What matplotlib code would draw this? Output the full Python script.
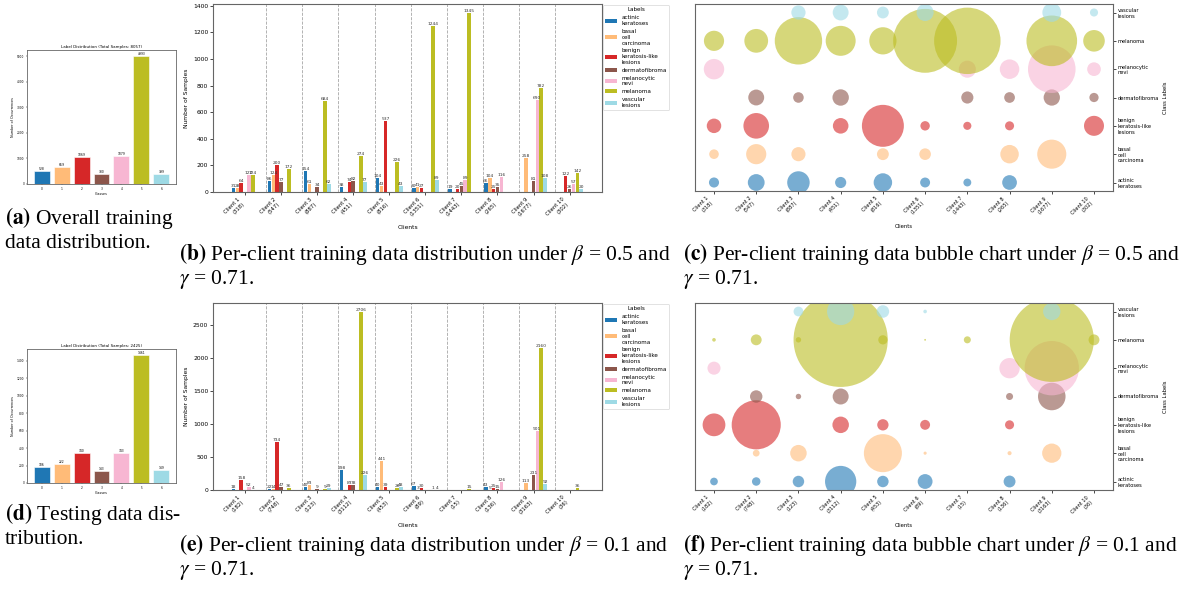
import numpy as np
import matplotlib.pyplot as plt

# class order shared by every panel
CLASS_NAMES = ["actinic keratoses", "basal cell carcinoma",
               "benign keratosis-like lesions", "dermatofibroma",
               "melanocytic nevi", "melanoma", "vascular lesions"]

# overall label counts
TRAIN_COUNTS = [528, 659, 1069, 380, 1079, 4993, 399]
TRAIN_TOTAL = 8057
TEST_COUNTS = [186, 222, 340, 143, 343, 1461, 149]
TEST_TOTAL = 2425

# per-client totals shown under the tick labels
CLIENT_TOTALS_B05 = [318, 547, 887, 451, 816, 1351, 1443, 265, 1677, 302]
CLIENT_TOTALS_B01 = [182, 748, 123, 3112, 453, 89, 15, 136, 3163, 36]

# per-client counts, beta = 0.5 (one list per class, clients 1..10)
AK_B05 = [31, 86, 154, 38, 104, 30, 19, 66, 0, 0]
BCC_B05 = [28, 124, 61, 0, 43, 41, 0, 104, 258, 0]
BKL_B05 = [64, 200, 0, 74, 537, 27, 20, 25, 0, 122]
DF_B05 = [0, 77, 34, 82, 0, 0, 45, 35, 81, 26]
NV_B05 = [127, 0, 0, 0, 0, 0, 89, 116, 690, 57]
MEL_B05 = [124, 172, 684, 274, 226, 1244, 1345, 0, 782, 142]
VASC_B05 = [0, 0, 62, 77, 43, 89, 0, 0, 108, 20]

# per-client counts, beta = 0.1
AK_B01 = [18, 22, 40, 298, 40, 67, 0, 43, 0, 0]
BCC_B01 = [0, 14, 83, 0, 441, 3, 0, 5, 113, 0]
BKL_B01 = [158, 734, 0, 83, 39, 30, 0, 25, 0, 0]
DF_B01 = [0, 47, 9, 78, 0, 0, 0, 15, 231, 0]
NV_B01 = [52, 0, 0, 0, 0, 0, 0, 126, 901, 0]
MEL_B01 = [4, 36, 9, 2706, 26, 1, 15, 0, 2160, 36]
VASC_B01 = [0, 0, 29, 226, 48, 4, 0, 0, 92, 0]

COUNTS_B05 = [AK_B05, BCC_B05, BKL_B05, DF_B05, NV_B05, MEL_B05, VASC_B05]
COUNTS_B01 = [AK_B01, BCC_B01, BKL_B01, DF_B01, NV_B01, MEL_B01, VASC_B01]

COLORS = plt.cm.tab20(np.linspace(0, 1, 7))
WRAPPED = [n.replace(" ", "\n") for n in CLASS_NAMES]

plt.rcParams["mathtext.fontset"] = "stix"
SPINE_COLOR = "0.4"

W, H = 1183, 592
fig = plt.figure(figsize=(W / 100, H / 100), dpi=100)


def axes_px(x0, y0, x1, y1):
    return fig.add_axes([x0 / W, 1 - y1 / H, (x1 - x0) / W, (y1 - y0) / H])


def style_spines(ax, lw=0.8):
    for s in ax.spines.values():
        s.set_color(SPINE_COLOR)
        s.set_linewidth(lw)


def overall_bars(ax, counts, total):
    x = np.arange(len(counts))
    ax.bar(x, counts, width=0.8, color=COLORS, edgecolor="white", linewidth=0.4)
    for xi, c in zip(x, counts):
        ax.text(xi, c, str(c), ha="center", va="bottom", fontsize=2.2)
    ax.set_title(f"Label Distribution (Total Samples: {total})", fontsize=2.9, pad=1.5)
    ax.set_xlabel("Classes", fontsize=2.4, labelpad=1)
    ax.set_ylabel("Number of Occurrences", fontsize=2.4, labelpad=1.5)
    ax.set_xticks(x)
    ax.tick_params(labelsize=2.1, length=1, width=0.3, pad=1)
    style_spines(ax, 0.6)


def client_labels(totals):
    return [f"Client {i + 1}\n({t})" for i, t in enumerate(totals)]


def client_bars(ax, counts, totals):
    n = len(totals)
    x = np.arange(n)
    w = 0.75 / 7
    for j, vals in enumerate(counts):
        pos = x + (j - 3) * w
        ax.bar(pos, vals, width=w * 0.92, color=COLORS[j], label=WRAPPED[j])
        for p, v in zip(pos, vals):
            if v > 0:
                ax.text(p, v, str(v), ha="center", va="bottom", fontsize=3.2, color="0.2")
    for i in range(n - 1):
        ax.axvline(i + 0.59, color="0.5", ls="--", lw=0.6, alpha=0.7)
    ax.set_xlim(-0.89, 9.9)
    ax.set_xticks(x)
    ax.set_xticklabels(client_labels(totals), rotation=45, ha="right", fontsize=3.8)
    ax.tick_params(axis="y", labelsize=4.3, length=2, width=0.5, pad=1.5)
    ax.tick_params(axis="x", length=2, width=0.5, pad=1.5)
    ax.set_xlabel("Clients", fontsize=4.3, labelpad=3)
    ax.set_ylabel("Number of Samples", fontsize=4.3, labelpad=3)
    leg = ax.legend(title="Labels", loc="upper left", bbox_to_anchor=(1.0, 1.0),
                    fontsize=4.1, title_fontsize=4.1, borderaxespad=0.2)
    leg.get_frame().set_linewidth(0.5)
    style_spines(ax)


def bubbles(ax, counts, totals):
    x = np.arange(len(totals))
    for j, vals in enumerate(counts):
        vals = np.array(vals)
        m = vals > 0
        ax.scatter(x[m], np.full(m.sum(), j), s=vals[m] * 1.7, color=COLORS[j],
                   alpha=0.6, edgecolors="none")
    ax.set_xlim(-0.45, 9.45)
    ax.set_ylim(-0.3, 6.3)
    ax.set_xticks(x)
    ax.set_xticklabels(client_labels(totals), rotation=45, ha="right", fontsize=3.6)
    ax.yaxis.tick_right()
    ax.yaxis.set_label_position("right")
    ax.set_yticks(range(len(CLASS_NAMES)))
    ax.set_yticklabels(WRAPPED, fontsize=3.7)
    ax.tick_params(length=2, width=0.5, pad=1.5)
    ax.set_xlabel("Clients", fontsize=3.8, labelpad=3)
    ax.set_ylabel("Class Labels", fontsize=3.8, labelpad=3)
    style_spines(ax)


overall_bars(axes_px(27, 50, 176, 184), TRAIN_COUNTS, TRAIN_TOTAL)
overall_bars(axes_px(27, 349, 176, 483), TEST_COUNTS, TEST_TOTAL)
client_bars(axes_px(213, 4, 602, 192), COUNTS_B05, CLIENT_TOTALS_B05)
client_bars(axes_px(213, 303, 602, 490), COUNTS_B01, CLIENT_TOTALS_B01)
bubbles(axes_px(695, 4, 1113, 191), COUNTS_B05, CLIENT_TOTALS_B05)
bubbles(axes_px(695, 303, 1113, 490), COUNTS_B01, CLIENT_TOTALS_B01)

# sub-figure captions
CAP = dict(fontsize=15.5, family="Liberation Serif", va="baseline", ha="left")


def caption(x, y, lines):
    for k, line in enumerate(lines):
        fig.text(x / W, 1 - (y + 24 * k) / H, line, **CAP)


caption(5, 224, [r"$\mathbf{(a)}$ Overall training", "data distribution."])
caption(5, 520, [r"$\mathbf{(d)}$ Testing data dis-", "tribution."])
caption(179, 260, [r"$\mathbf{(b)}$ Per-client training data distribution under $\beta$ = 0.5 and",
                   r"$\gamma$ = 0.71."])
caption(683, 260, [r"$\mathbf{(c)}$ Per-client training data bubble chart under $\beta$ = 0.5 and",
                   r"$\gamma$ = 0.71."])
caption(179, 551, [r"$\mathbf{(e)}$ Per-client training data distribution under $\beta$ = 0.1 and",
                   r"$\gamma$ = 0.71."])
caption(683, 551, [r"$\mathbf{(f)}$ Per-client training data bubble chart under $\beta$ = 0.1 and",
                   r"$\gamma$ = 0.71."])

fig.savefig("out.png", dpi=100)
